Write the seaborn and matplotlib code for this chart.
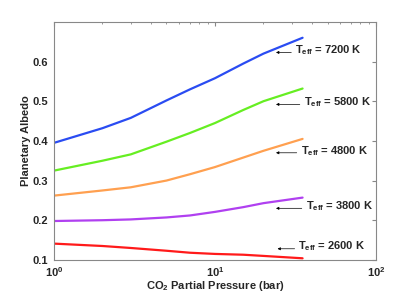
import numpy as np
import pandas as pd
import matplotlib
matplotlib.use('Agg')
import matplotlib.pyplot as plt
import seaborn as sns

# CO2 partial pressure (bar) and albedo curves
pressure = [1, 2, 3, 5, 7, 10, 15, 20, 35]
albedo_7200 = [0.395, 0.432, 0.458, 0.502, 0.530, 0.558, 0.595, 0.620, 0.660]
albedo_5800 = [0.325, 0.350, 0.366, 0.398, 0.420, 0.445, 0.478, 0.500, 0.532]
albedo_4800 = [0.262, 0.275, 0.283, 0.300, 0.316, 0.334, 0.358, 0.375, 0.405]
albedo_3800 = [0.198, 0.200, 0.202, 0.207, 0.212, 0.221, 0.233, 0.243, 0.257]
albedo_2600 = [0.141, 0.135, 0.130, 0.123, 0.118, 0.115, 0.113, 0.110, 0.104]

teff = ['7200', '5800', '4800', '3800', '2600']
colors = ['#2a4cf2', '#66ee22', '#ffa050', '#b040f0', '#ff1a1a']

# annotation arrow heads (x, y) and label positions (x, y)
arrow_xy = [(23, 0.623), (23, 0.492), (23, 0.370), (23, 0.230), (23.5, 0.128)]
label_xy = [(31.5, 0.628), (35.5, 0.497), (34, 0.375), (36.5, 0.235), (33, 0.134)]

series = [albedo_7200, albedo_5800, albedo_4800, albedo_3800, albedo_2600]
df = pd.concat([
    pd.DataFrame({'Pressure': pressure, 'Albedo': vals, 'Teff': t})
    for t, vals in zip(teff, series)
])

sns.set_style('white')
plt.rcParams['font.family'] = ['Liberation Sans', 'DejaVu Sans']
plt.rcParams['font.weight'] = 'bold'
plt.rcParams['mathtext.fontset'] = 'custom'
plt.rcParams['mathtext.rm'] = 'Liberation Sans:bold'
plt.rcParams['mathtext.it'] = 'Liberation Sans:bold'
plt.rcParams['mathtext.bf'] = 'Liberation Sans:bold'

fig, ax = plt.subplots(figsize=(4.15, 2.92), dpi=100)
fig.subplots_adjust(left=0.13, right=0.906, top=0.925, bottom=0.11)

sns.lineplot(data=df, x='Pressure', y='Albedo', hue='Teff', hue_order=teff,
             palette=colors, linewidth=1.6, legend=False, ax=ax)

ax.set_xscale('log')
ax.set_xlim(1, 100)
ax.set_ylim(0.1, 0.7)
ax.set_yticks([0.1, 0.2, 0.3, 0.4, 0.5, 0.6])
ax.set_xlabel('CO$_2$ Partial Pressure (bar)', fontsize=8, fontweight='bold', labelpad=0.5)
ax.set_ylabel('Planetary Albedo', fontsize=8, fontweight='bold', labelpad=1)

for s in ax.spines.values():
    s.set_color('#888888')
    s.set_linewidth(0.8)
ax.tick_params(which='both', direction='in', top=True, right=True, color='#888888',
               labelsize=8, pad=4)
ax.tick_params(axis='x', which='both', pad=3.5)
ax.tick_params(which='major', length=3)
ax.tick_params(which='minor', length=1.5)

for t, a, l in zip(teff, arrow_xy, label_xy):
    ax.annotate('', xy=a, xytext=(l[0] - 0.5, a[1]),
                arrowprops=dict(arrowstyle='-|>', color='black', lw=0.5,
                                mutation_scale=4))
    ax.text(l[0], l[1], r'T$_{\rm eff}$ = ' + t + ' K', fontsize=8, fontweight='bold',
            va='center', ha='left')

fig.savefig('out.png', dpi=100)
